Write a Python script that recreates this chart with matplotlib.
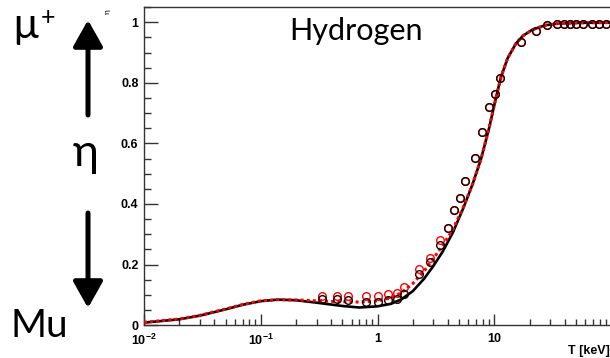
import matplotlib
matplotlib.use("Agg")
import matplotlib.pyplot as plt
from matplotlib.ticker import FixedLocator, FixedFormatter, LogLocator, MultipleLocator, NullFormatter

# ── curves ───────────────────────────────────────────────────────────────────
curve_T = [0.01, 0.02, 0.03, 0.05, 0.07, 0.1, 0.14, 0.2, 0.3, 0.5, 0.7, 1.0,
           1.3, 1.6, 2.0, 2.5, 3.0, 3.6, 4.4, 5.4, 6.5, 7.7, 9.0, 10.3, 11.4,
           13.0, 15.3, 17.5, 21.0, 27.0, 35.0, 50.0, 100.0]
black_eta = [0.008, 0.019, 0.031, 0.052, 0.067, 0.079, 0.084, 0.082, 0.074,
             0.063, 0.058, 0.062, 0.070, 0.085, 0.112, 0.153, 0.195, 0.242,
             0.305, 0.385, 0.465, 0.550, 0.650, 0.750, 0.820, 0.882, 0.930,
             0.955, 0.975, 0.990, 0.996, 0.998, 0.999]
red_eta = [0.009, 0.020, 0.032, 0.053, 0.068, 0.080, 0.084, 0.083, 0.080,
           0.077, 0.076, 0.080, 0.090, 0.107, 0.137, 0.178, 0.220, 0.262,
           0.315, 0.388, 0.465, 0.550, 0.650, 0.750, 0.820, 0.882, 0.930,
           0.955, 0.975, 0.990, 0.996, 0.998, 0.999]

# ── data points ──────────────────────────────────────────────────────────────
pts_T = [0.337, 0.449, 0.562, 0.79, 1.01, 1.23, 1.46, 1.69, 2.25, 2.82, 3.39,
         3.99, 4.49, 5.09, 5.62, 6.88, 7.85, 9.06, 10.07, 11.2, 16.9, 22.7,
         28.2, 34.1, 39.8, 44.4, 49.9, 56.9, 68.4, 78.9, 90.1]
black_pts = [0.087, 0.087, 0.082, 0.076, 0.076, 0.082, 0.087, 0.104, 0.170,
             0.208, 0.265, 0.320, 0.380, 0.419, 0.475, 0.553, 0.638, 0.721,
             0.762, 0.815, 0.934, 0.972, 0.990, 0.994, 0.995, 0.995, 0.995,
             0.995, 0.995, 0.995, 0.995]
red_pts = [0.095, 0.096, 0.095, 0.095, 0.095, 0.102, 0.106, 0.126, 0.186,
           0.222, 0.280, 0.320, 0.380, 0.419, 0.475, 0.553, 0.638, 0.721,
           0.762, 0.815, 0.934, 0.972, 0.990, 0.994, 0.995, 0.995, 0.995,
           0.995, 0.995, 0.995, 0.995]

x_ticks = [0.01, 0.1, 1, 10]
x_labels = [r"$10^{-2}$", r"$10^{-1}$", "1", "10"]
y_ticks = [0, 0.2, 0.4, 0.6, 0.8, 1.0]
y_labels = ["0", "0.2", "0.4", "0.6", "0.8", "1"]

plt.rcParams["font.family"] = ["Liberation Sans", "DejaVu Sans"]
plt.rcParams["mathtext.default"] = "regular"
BIG = ["Lato", "Noto Sans", "DejaVu Sans"]

fig = plt.figure(figsize=(6.1, 3.58), dpi=100)
ax = fig.add_axes([0.236, 0.092, 0.766, 0.888])

ax.plot(curve_T, black_eta, color="black", lw=1.9, zorder=3)
ax.plot(curve_T, red_eta, color="#ff0000", lw=2.2, ls=(0, (1.0, 1.0)), zorder=4)
ax.plot(pts_T, red_pts, ls="none", marker="o", ms=5.5, mfc="none",
        mec="#ff0000", mew=1.0, zorder=5)
ax.plot(pts_T, black_pts, ls="none", marker="o", ms=5.5, mfc="none",
        mec="#1a0000", mew=1.0, zorder=6)

ax.set_xscale("log")
ax.set_xlim(0.01, 100)
ax.set_ylim(0, 1.05)

ax.xaxis.set_major_locator(FixedLocator(x_ticks))
ax.xaxis.set_major_formatter(FixedFormatter(x_labels))
ax.xaxis.set_minor_locator(LogLocator(base=10, subs=range(2, 10), numticks=20))
ax.xaxis.set_minor_formatter(NullFormatter())
ax.yaxis.set_major_locator(FixedLocator(y_ticks))
ax.yaxis.set_major_formatter(FixedFormatter(y_labels))
ax.yaxis.set_minor_locator(MultipleLocator(0.05))

ax.tick_params(axis="both", which="both", direction="in", top=False, right=False,
               color="#333333", width=1.0)
ax.tick_params(axis="y", which="major", length=10, pad=4)
ax.tick_params(axis="y", which="minor", length=5)
ax.tick_params(axis="x", which="major", length=8, pad=5.5)
ax.tick_params(axis="x", which="minor", length=4)
for lab in ax.get_xticklabels() + ax.get_yticklabels():
    lab.set_fontweight("bold")
    lab.set_fontsize(9)
# the "0" sits a little above the axis line, clear of the 10^-2 below it
ax.get_yticklabels()[0].set_va("center_baseline")

for sp in ax.spines.values():
    sp.set_color("#333333")
    sp.set_linewidth(1.0)

fig.text(1.0, 0.003, "T [keV]", ha="right", va="bottom", fontsize=9,
         fontweight="bold")

fig.text(107 / 610, 1 - 12 / 358, "η", rotation=90, ha="center", va="center",
         fontsize=6, family=BIG)

ax.text(356, 318, "Hydrogen", transform=None, ha="center", va="baseline",
        fontsize=22, family=BIG)

# left-hand annotations
fig.text(12 / 610, 1 - 38 / 358, "µ", ha="left", va="baseline", fontsize=30,
         family=BIG)
fig.text(41 / 610, 1 - 25 / 358, "+", ha="left", va="baseline", fontsize=18,
         family=BIG)
fig.text(86 / 610, 1 - 166 / 358, "η", ha="center", va="baseline", fontsize=32,
         family=BIG)
fig.text(11 / 610, 1 - 337 / 358, "Mu", ha="left", va="baseline", fontsize=28,
         family=BIG)

arrow = dict(arrowstyle="-|>,head_length=0.8,head_width=0.45", lw=3.6,
             color="black", mutation_scale=20, shrinkA=0, shrinkB=0)
fig.add_artist(plt.Annotation("", xy=(88, 338), xytext=(88, 243),
                              xycoords="figure pixels", arrowprops=arrow))
fig.add_artist(plt.Annotation("", xy=(88, 50), xytext=(88, 145),
                              xycoords="figure pixels", arrowprops=arrow))

fig.savefig("out.png", dpi=100)
